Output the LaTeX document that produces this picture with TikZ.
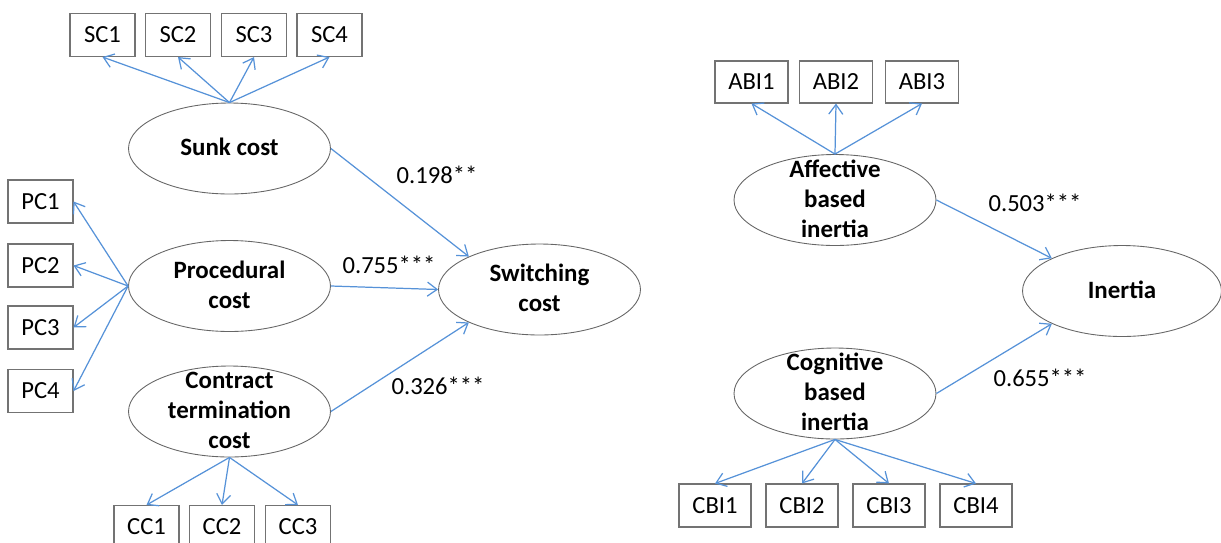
\documentclass[tikz,border=0pt]{standalone}
\usepackage{fontspec}
\setmainfont{Carlito}
\usetikzlibrary{shapes.geometric,arrows.meta}
\definecolor{loadblue}{RGB}{86,146,216}
\newcommand{\lvtext}[1]{\raisebox{-8.7pt}{\smash{\begin{tabular}{@{}c@{}}#1\end{tabular}}}}
\begin{document}
\begin{tikzpicture}[x=0.02cm,y=-0.02cm,
	font=\fontsize{14}{17}\selectfont,
	ind/.style={draw=black!55,line width=0.6pt,minimum width=1.3cm,minimum height=0.86cm,inner sep=0pt},
	lat/.style={ellipse,draw=black!60,line width=0.5pt,minimum width=4.04cm,minimum height=1.82cm,inner sep=0pt,font=\fontsize{14.2}{17}\selectfont\bfseries},
	load/.style={draw=loadblue,line width=0.7pt,-{Straight Barb[length=5.5pt,width=8pt]}}]
	\useasboundingbox (0,0) rectangle (1221,542);
	% latent variables
	\node[lat] (sunk) at (229.5,148.5) {\lvtext{Sunk cost}};
	\node[lat] (proc) at (229.5,286) {\lvtext{Procedural\\cost}};
	\node[lat] (contr) at (229.5,411.5) {\lvtext{Contract\\termination\\cost}};
	\node[lat] (switch) at (539.5,289.5) {\lvtext{Switching\\cost}};
	\node[lat] (aff) at (835,200) {\lvtext{Affective\\based\\inertia}};
	\node[lat] (cog) at (835,393.5) {\lvtext{Cognitive\\based\\inertia}};
	\node[lat,minimum width=3.98cm] (inert) at (1122,291) {\lvtext{Inertia}};
	% indicators
	\node[ind] (sc1) at (102.5,35) {SC1};
	\node[ind] (sc2) at (178,35) {SC2};
	\node[ind] (sc3) at (254,35) {SC3};
	\node[ind] (sc4) at (329.5,35) {SC4};
	\node[ind] (pc1) at (40.5,201.5) {PC1};
	\node[ind] (pc2) at (40.5,265.5) {PC2};
	\node[ind] (pc3) at (40.5,327.5) {PC3};
	\node[ind] (pc4) at (40.5,391) {PC4};
	\node[ind] (cc1) at (146.5,527) {CC1};
	\node[ind] (cc2) at (222,527) {CC2};
	\node[ind] (cc3) at (298,527) {CC3};
	\node[ind,minimum width=1.46cm,minimum height=0.84cm] (abi1) at (751.5,82) {ABI1};
	\node[ind,minimum width=1.46cm,minimum height=0.84cm] (abi2) at (836,82) {ABI2};
	\node[ind,minimum width=1.46cm,minimum height=0.84cm] (abi3) at (922,82) {ABI3};
	\node[ind,minimum width=1.44cm] (cbi1) at (715,505.5) {CBI1};
	\node[ind,minimum width=1.44cm] (cbi2) at (802,505.5) {CBI2};
	\node[ind,minimum width=1.44cm] (cbi3) at (889,505.5) {CBI3};
	\node[ind,minimum width=1.44cm] (cbi4) at (976,505.5) {CBI4};
	% loadings
	\draw[load] (sunk.north) -- (sc1.south);
	\draw[load] (sunk.north) -- (sc2.south);
	\draw[load] (sunk.north) -- (sc3.south);
	\draw[load] (sunk.north) -- (sc4.south);
	\draw[load] (proc.west) -- (pc1.east);
	\draw[load] (proc.west) -- (pc2.east);
	\draw[load] (proc.west) -- (pc3.east);
	\draw[load] (proc.west) -- (pc4.east);
	\draw[load] (contr.south) -- (cc1.north);
	\draw[load] (contr.south) -- (cc2.north);
	\draw[load] (contr.south) -- (cc3.north);
	\draw[load] (aff.north) -- (abi1.south);
	\draw[load] (aff.north) -- (abi2.south);
	\draw[load] (aff.north) -- (abi3.south);
	\draw[load] (cog.south) -- (cbi1.north);
	\draw[load] (cog.south) -- (cbi2.north);
	\draw[load] (cog.south) -- (cbi3.north);
	\draw[load] (cog.south) -- (cbi4.north);
	% structural paths
	\draw[load] (sunk.east) -- (switch.155);
	\draw[load] (proc.east) -- (switch.west);
	\draw[load] (contr.east) -- (switch.205);
	\draw[load] (aff.east) -- (inert.155);
	\draw[load] (cog.east) -- (inert.205);
	\node (b1) at (437,175) {0.198**};
	\node (b2) at (389,265) {0.755***};
	\node (b3) at (438,386) {0.326***};
	\node (b4) at (1035,203) {0.503***};
	\node (b5) at (1040,378) {0.655***};
\end{tikzpicture}
\end{document}
